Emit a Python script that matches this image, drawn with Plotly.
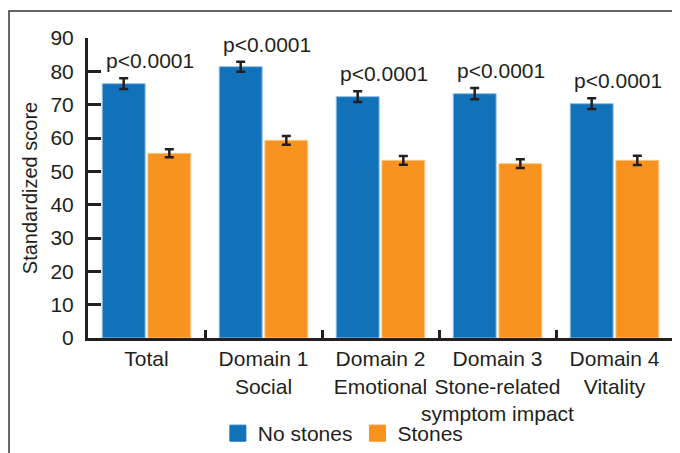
import plotly.graph_objects as go

categories = ["Total", "Domain 1<br>Social", "Domain 2<br>Emotional",
              "Domain 3<br>Stone-related<br>symptom impact", "Domain 4<br>Vitality"]
no_stones = [76.3, 81.4, 72.4, 73.3, 70.3]
no_stones_err = [1.6, 1.5, 1.6, 1.7, 1.6]
stones = [55.4, 59.3, 53.3, 52.3, 53.3]
stones_err = [1.2, 1.3, 1.3, 1.3, 1.4]
p_labels = ["p<0.0001"] * 5
y_ticks = [0, 10, 20, 30, 40, 50, 60, 70, 80, 90]

BLUE = "#1172ba"
ORANGE = "#f7931e"
INK = "#231f20"
FONT = "Liberation Sans, Arial, sans-serif"
FS = 21

fig = go.Figure()
fig.add_trace(go.Bar(
    x=categories, y=no_stones, name="No stones", showlegend=False,
    marker=dict(color=BLUE, line=dict(color="#8fbde3", width=1)),
    error_y=dict(type="data", array=no_stones_err, color=INK, thickness=2.5, width=4.5),
))
fig.add_trace(go.Bar(
    x=categories, y=stones, name="Stones", showlegend=False,
    marker=dict(color=ORANGE, line=dict(color="#fbc88a", width=1)),
    error_y=dict(type="data", array=stones_err, color=INK, thickness=2.5, width=4.5),
))
# legend entries (square swatches)
for nm, col in [("No stones", BLUE), ("Stones", ORANGE)]:
    fig.add_trace(go.Scatter(
        x=[None], y=[None], mode="markers", name=nm,
        marker=dict(symbol="square", size=16, color=col, line=dict(color=col, width=1)),
    ))

for cat, v, e, lab in zip(categories, no_stones, no_stones_err, p_labels):
    fig.add_annotation(x=cat, y=v + e, text=lab, showarrow=False,
                       yanchor="bottom", xanchor="center", xshift=3, yshift=4,
                       font=dict(size=FS, color=INK, family=FONT))

# partial frame around the figure
fig.add_shape(type="rect", xref="paper", yref="paper",
              x0=-0.135, x1=1.05, y0=-0.45, y1=1.09,
              line=dict(color="#333333", width=1.5), layer="below")

fig.update_layout(
    width=672, height=445,
    margin=dict(l=80, r=7, t=30, b=115, autoexpand=False),
    paper_bgcolor="white", plot_bgcolor="white",
    barmode="group", bargap=0.22, bargroupgap=0.06,
    font=dict(family=FONT, size=FS, color=INK),
    showlegend=True,
    legend=dict(orientation="h", x=0.222, xanchor="left", y=-0.25, yanchor="top",
                font=dict(size=FS, color=INK), itemsizing="trace",
                itemwidth=30, tracegroupgap=0, bgcolor="rgba(0,0,0,0)"),
)
fig.update_xaxes(
    showline=True, linecolor=INK, linewidth=3, automargin=False, tickangle=0,
    ticks="inside", tickson="boundaries", ticklen=8, tickwidth=2.5, tickcolor=INK,
    showgrid=False, tickfont=dict(size=FS, color=INK),
)
fig.update_yaxes(
    range=[0, 90], tickvals=y_ticks, showline=True, linecolor=INK, linewidth=3,
    automargin=False,
    ticks="inside", ticklen=13, tickwidth=3, tickcolor=INK, showgrid=False, zeroline=False,
    tickfont=dict(size=FS, color=INK), ticklabelstandoff=7,
    title=dict(text="Standardized score", font=dict(size=20, color=INK), standoff=8),
)

fig.write_html("out.html")
